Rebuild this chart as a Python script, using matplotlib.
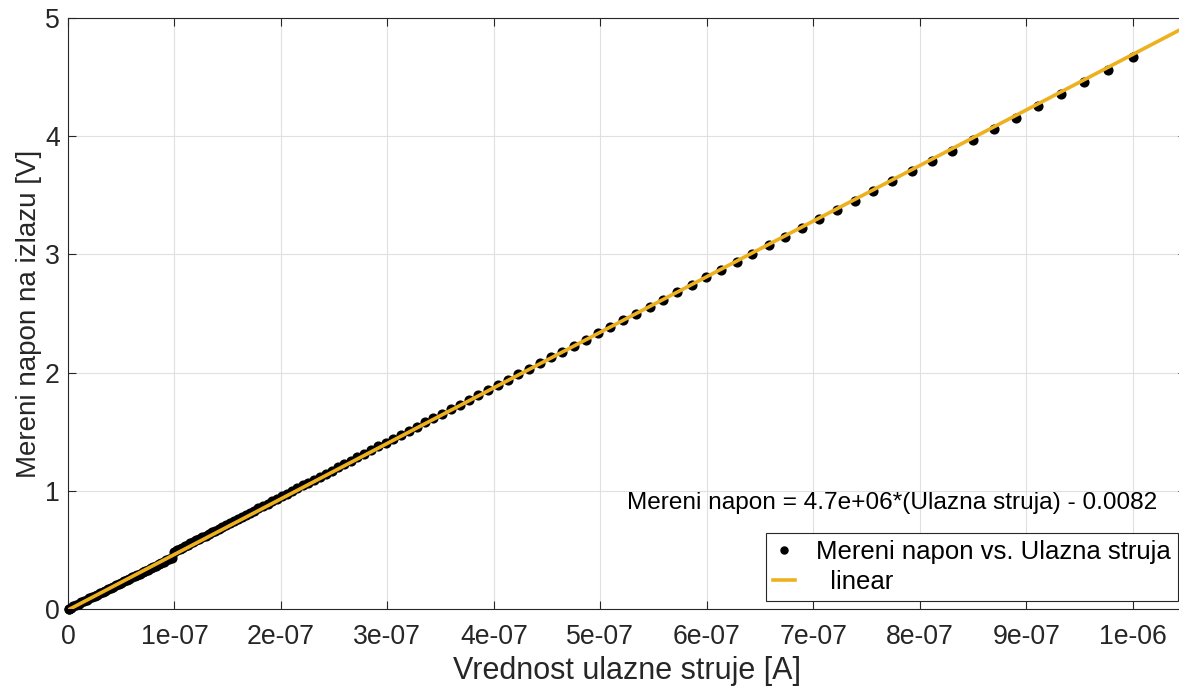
import matplotlib
matplotlib.use("Agg")
import matplotlib.pyplot as plt
import numpy as np

plt.rcParams['font.family'] = ['Liberation Sans', 'DejaVu Sans']

# ---- data (x in units of 1e-7 A, y in V) ----
x_low = [0.005, 0.01, 0.025, 0.05, 0.075, 0.1, 0.125, 0.15, 0.175, 0.2, 0.225, 0.25,
         0.275, 0.3, 0.325, 0.35, 0.375, 0.4, 0.425, 0.45, 0.475, 0.5, 0.525, 0.55,
         0.575, 0.6, 0.625, 0.65, 0.675, 0.7, 0.725, 0.75, 0.775, 0.8, 0.825, 0.85,
         0.875, 0.9, 0.925, 0.95, 0.975]
y_low = [0.002, 0.004, 0.011, 0.022, 0.033, 0.045, 0.056, 0.067, 0.078, 0.089, 0.100, 0.111,
         0.122, 0.134, 0.145, 0.156, 0.167, 0.178, 0.189, 0.200, 0.211, 0.223, 0.234, 0.245,
         0.256, 0.267, 0.278, 0.289, 0.300, 0.312, 0.323, 0.334, 0.345, 0.356, 0.367, 0.378,
         0.389, 0.401, 0.412, 0.423, 0.434]

x_high = [1.000, 1.0235, 1.0476, 1.0723, 1.0975, 1.1233, 1.1498, 1.1768, 1.2045, 1.2328,
          1.2619, 1.2915, 1.3219, 1.3530, 1.3849, 1.4175, 1.4508, 1.4850, 1.5199, 1.5557,
          1.5923, 1.6298, 1.6681, 1.7074, 1.7475, 1.7886, 1.8307, 1.8738, 1.9179, 1.9630,
          2.0092, 2.0565, 2.1049, 2.1544, 2.2051, 2.2570, 2.3101, 2.3645, 2.4201, 2.4771,
          2.5354, 2.5950, 2.6561, 2.7186, 2.7826, 2.8480, 2.9151, 2.9837, 3.0539, 3.1257,
          3.1993, 3.2746, 3.3516, 3.4305, 3.5112, 3.5938, 3.6784, 3.7649, 3.8535, 3.9442,
          4.0370, 4.1320, 4.2292, 4.3288, 4.4306, 4.5349, 4.6416, 4.7508, 4.8626, 4.9770,
          5.0941, 5.2140, 5.3367, 5.4623, 5.5908, 5.7224, 5.8570, 5.9948, 6.1359, 6.2803,
          6.4281, 6.5793, 6.7342, 6.8926, 7.0548, 7.2208, 7.3907, 7.5646, 7.7426, 7.9248,
          8.1113, 8.3022, 8.4975, 8.6975, 8.9022, 9.1116, 9.3260, 9.5455, 9.7701, 10.000]
y_high = [0.485, 0.496, 0.507, 0.519, 0.530, 0.542, 0.555, 0.567, 0.580, 0.593,
          0.607, 0.620, 0.635, 0.649, 0.664, 0.679, 0.694, 0.710, 0.727, 0.743,
          0.760, 0.778, 0.795, 0.814, 0.832, 0.851, 0.871, 0.891, 0.912, 0.933,
          0.954, 0.976, 0.998, 1.021, 1.045, 1.069, 1.094, 1.119, 1.145, 1.171,
          1.199, 1.226, 1.255, 1.284, 1.313, 1.344, 1.375, 1.407, 1.439, 1.473,
          1.507, 1.542, 1.578, 1.614, 1.652, 1.690, 1.730, 1.770, 1.811, 1.853,
          1.896, 1.940, 1.986, 2.032, 2.079, 2.128, 2.177, 2.228, 2.280, 2.333,
          2.388, 2.443, 2.500, 2.559, 2.618, 2.680, 2.742, 2.806, 2.872, 2.939,
          3.007, 3.078, 3.150, 3.223, 3.299, 3.376, 3.455, 3.536, 3.618, 3.703,
          3.790, 3.878, 3.969, 4.062, 4.157, 4.254, 4.354, 4.456, 4.560, 4.667]

x_unit = 1e-7
fit_slope = 4.7e6
fit_intercept = -0.0082
x_lim = [0, 1.05e-6]
y_lim = [0, 5]
x_ticks = [0, 1e-7, 2e-7, 3e-7, 4e-7, 5e-7, 6e-7, 7e-7, 8e-7, 9e-7, 1e-6]
x_ticklabels = ['0', '1e-07', '2e-07', '3e-07', '4e-07', '5e-07', '6e-07', '7e-07',
                '8e-07', '9e-07', '1e-06']
y_ticks = [0, 1, 2, 3, 4, 5]

# ---- figure ----
W, H = 1179, 693
fig = plt.figure(figsize=(W / 100, H / 100), dpi=100)
ax = fig.add_axes([68 / W, 1 - 609 / H, (1186 - 68) / W, (609 - 18) / H])

dark = '#262626'
x_meas = np.array(x_low + x_high) * x_unit
y_meas = np.array(y_low + y_high)
ax.plot(x_meas, y_meas, linestyle='none', marker='o', markersize=6.3,
        color='black', label='Mereni napon vs. Ulazna struja', zorder=3, clip_on=False)
xf = np.array(x_lim)
ax.plot(xf, fit_slope * xf + fit_intercept, color='#EDB120', linewidth=2.6,
        label='  linear', zorder=4)

ax.set_xlim(x_lim)
ax.set_ylim(y_lim)
ax.set_xticks(x_ticks)
ax.set_xticklabels(x_ticklabels)
ax.set_yticks(y_ticks)
ax.grid(True, color='#e0e0e0', linewidth=0.8)
ax.set_axisbelow(True)
ax.tick_params(direction='in', length=5.5, width=0.8, colors=dark,
               labelsize=19.2, top=True, right=True)
ax.tick_params(axis='x', pad=11)
ax.tick_params(axis='y', pad=6)
for s in ax.spines.values():
    s.set_color(dark)
    s.set_linewidth(0.8)

ax.set_xlabel('Vrednost ulazne struje [A]', fontsize=22, color=dark, labelpad=4)
ax.set_ylabel('Mereni napon na izlazu [V]', fontsize=20, color=dark, labelpad=2)

ax.text(0.737, 0.179, 'Mereni napon = 4.7e+06*(Ulazna struja) - 0.0082',
        transform=ax.transAxes, ha='center', va='center', fontsize=17.6, color='black')

leg = ax.legend(loc='lower right', fontsize=18.5, frameon=True, fancybox=False,
                borderaxespad=0.3, handlelength=0.85, handletextpad=0.8,
                borderpad=0.3, labelspacing=0.2, markerscale=0.8)
leg.get_frame().set_edgecolor(dark)
leg.get_frame().set_linewidth(0.8)
leg.get_frame().set_alpha(1)

fig.savefig('out.png', dpi=100)
